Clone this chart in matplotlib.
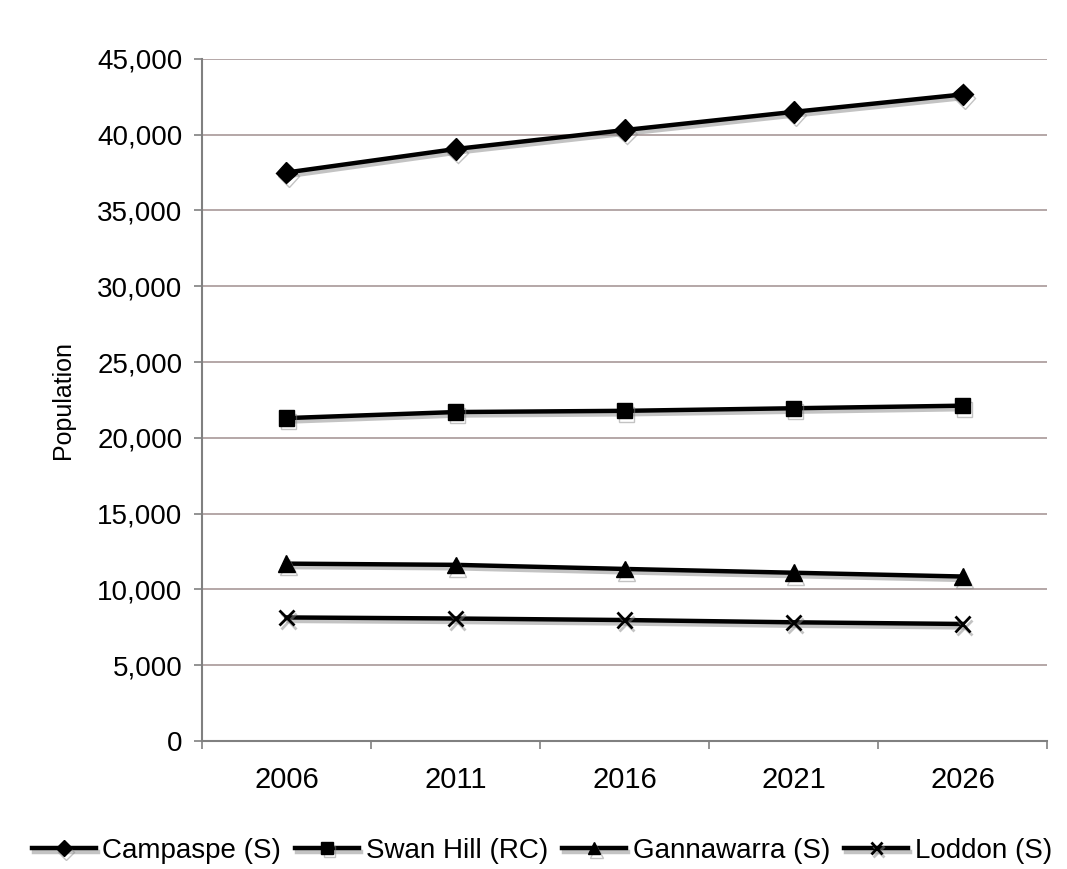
import matplotlib
matplotlib.use("Agg")
import matplotlib.pyplot as plt
import matplotlib.patheffects as pe
from matplotlib.ticker import FuncFormatter, FixedLocator

plt.rcParams['font.family'] = ['Liberation Sans', 'DejaVu Sans']

years = ['2006', '2011', '2016', '2021', '2026']
campaspe = [37500, 39050, 40300, 41500, 42650]
swan_hill = [21300, 21700, 21780, 21950, 22120]
gannawarra = [11700, 11620, 11350, 11100, 10850]
loddon = [8150, 8080, 7980, 7830, 7720]

series = [
    ('Campaspe (S)', campaspe, 'D', 11),
    ('Swan Hill (RC)', swan_hill, 's', 11),
    ('Gannawarra (S)', gannawarra, '^', 12),
    ('Loddon (S)', loddon, 'x', 11),
]

fig = plt.figure(figsize=(10.67, 8.69), dpi=100)
ax = fig.add_axes([0.1893, 0.1473, 0.792, 0.785])

x = list(range(len(years)))
shadow = [pe.SimpleLineShadow(offset=(1.5, -2.5), shadow_color='#888888', alpha=0.5),
          pe.Normal()]
for name, vals, mk, ms in series:
    ax.plot(x, vals, color='black', lw=3.2, marker=mk, markersize=ms,
            markeredgewidth=2 if mk == 'x' else 1, label=name,
            path_effects=shadow, zorder=3)

ax.set_ylim(0, 45000)
ax.set_yticks(range(0, 45001, 5000))
ax.yaxis.set_major_formatter(FuncFormatter(lambda v, p: f'{int(v):,}'))
ax.set_xlim(-0.5, len(years) - 0.5)
ax.set_xticks(x)
ax.set_xticklabels(years)
ax.xaxis.set_minor_locator(FixedLocator([i - 0.5 for i in range(len(years) + 1)]))

ax.grid(axis='y', color='#a89898', lw=1.2)
ax.set_axisbelow(True)
for s in ['top', 'right']:
    ax.spines[s].set_visible(False)
for s in ['left', 'bottom']:
    ax.spines[s].set_color('#808080')
    ax.spines[s].set_linewidth(1.5)

ax.tick_params(axis='y', labelsize=20, length=6, width=1.2, color='#808080', pad=8)
ax.tick_params(axis='x', which='major', labelsize=21, length=0, pad=18)
ax.tick_params(axis='x', which='minor', length=6, width=1.2, color='#808080')

ax.set_ylabel('Population', fontsize=18, labelpad=16)

fig.legend(loc='center', bbox_to_anchor=(0.508, 0.021), ncol=4, frameon=False,
           fontsize=20, handlelength=2.3, handletextpad=0.25, columnspacing=0.5,
           markerscale=0.75, borderaxespad=0)

fig.savefig('out.png', dpi=100, facecolor='white')
